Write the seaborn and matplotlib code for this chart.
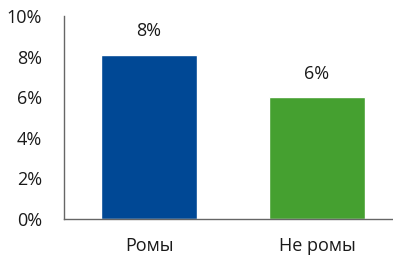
import matplotlib
matplotlib.use("Agg")
import matplotlib.pyplot as plt
import seaborn as sns
import pandas as pd

categories = ["Ромы", "Не ромы"]
values = [8.1, 6.0]
labels = ["8%", "6%"]
yticks = [0, 2, 4, 6, 8, 10]
colors = ["#004895", "#45A030"]

sns.set_style("white")
plt.rcParams['font.family'] = ['Open Sans', 'DejaVu Sans']

df = pd.DataFrame({"cat": categories, "val": values})
fig = plt.figure(figsize=(3.93, 2.59), dpi=100)
ax = fig.add_axes([64/393, 1-219/259, 1-64/393, 203/259])
sns.barplot(data=df, x="cat", y="val", hue="cat", palette=colors, width=0.571,
            legend=False, ax=ax, saturation=1)
ax.set_xlim(-0.506, 1.452)
ax.set_ylim(0, 10)
ax.set_yticks(yticks)
ax.set_yticklabels([f"{t}%" for t in yticks], fontsize=13, color="#1a1a1a")
ax.tick_params(axis='x', labelsize=13, colors="#1a1a1a", pad=13, length=0)
ax.tick_params(axis='y', length=0, pad=16)
ax.set_xlabel("")
ax.set_ylabel("")
for s in ["top", "right"]:
    ax.spines[s].set_visible(False)
for s in ["left", "bottom"]:
    ax.spines[s].set_color("#666666")
    ax.spines[s].set_linewidth(1)
for i, (v, l) in enumerate(zip(values, labels)):
    ax.text(i, v + 0.7, l, ha="center", va="bottom", fontsize=13, color="#1a1a1a")
fig.savefig("out.png", dpi=100)
